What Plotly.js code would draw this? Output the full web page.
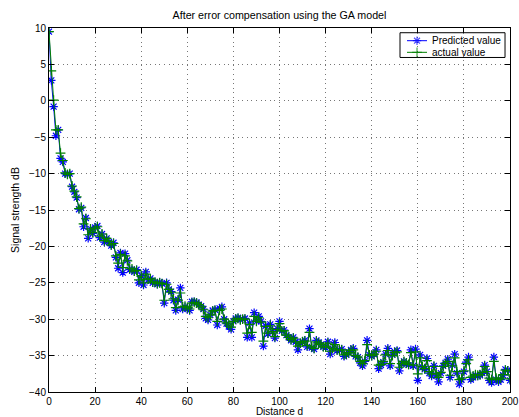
<!DOCTYPE html>
<html>
<head>
<meta charset="utf-8">
<script src="https://cdn.plot.ly/plotly-3.0.1.min.js"></script>
<style>html,body{margin:0;padding:0;background:#fff;}#chart{width:519px;height:417px;}</style>
</head>
<body>
<div id="chart"></div>
<script>
const distance = Array.from({length: 201}, (_, i) => i);

const predictedValue = [
  9.5, 2.8, -0.8, -4.8, -4.0, -7.9, -8.4, -10.0, -10.1, -10.0,
  -11.8, -12.5, -13.3, -14.9, -14.7, -17.3, -16.1, -18.9, -17.6, -18.2,
  -17.4, -17.2, -18.8, -18.3, -19.4, -18.9, -19.4, -19.9, -19.5, -21.5,
  -23.0, -20.9, -23.6, -21.0, -21.9, -23.2, -23.2, -23.5, -23.2, -25.0,
  -24.0, -25.3, -23.5, -24.6, -24.4, -25.0, -24.9, -25.2, -24.9, -25.1,
  -27.8, -25.0, -25.9, -26.2, -27.4, -28.8, -27.3, -25.7, -28.6, -28.3,
  -28.5, -28.8, -27.6, -27.6, -27.7, -28.0, -28.2, -28.6, -29.9, -30.1,
  -29.4, -28.8, -28.7, -30.8, -28.5, -28.3, -30.0, -30.6, -31.0, -31.4,
  -30.3, -29.9, -29.8, -30.1, -30.0, -29.9, -32.5, -30.5, -32.5, -29.1,
  -30.3, -29.6, -30.3, -33.7, -30.9, -32.0, -30.7, -31.7, -32.6, -31.3,
  -30.3, -31.6, -31.5, -32.2, -32.5, -32.9, -32.5, -33.1, -34.2, -33.3,
  -33.1, -32.9, -33.8, -31.3, -33.9, -34.1, -32.9, -33.2, -33.5, -33.8,
  -33.9, -33.1, -34.8, -34.0, -33.2, -34.3, -34.2, -34.1, -35.1, -34.9,
  -34.6, -34.2, -34.0, -35.1, -35.2, -36.0, -36.4, -35.8, -32.9, -34.9,
  -35.1, -34.8, -34.2, -36.8, -36.3, -35.9, -34.8, -34.0, -36.4, -34.9,
  -34.5, -34.3, -37.1, -36.1, -35.8, -36.1, -36.3, -34.2, -36.4, -34.1,
  -38.4, -34.9, -36.6, -36.9, -35.4, -37.4, -37.8, -36.4, -37.7, -38.6,
  -37.4, -36.4, -36.0, -35.5, -38.0, -36.3, -34.8, -37.4, -38.9, -38.3,
  -37.2, -35.9, -35.2, -38.3, -38.0, -37.7, -37.8, -37.7, -37.4, -36.3,
  -37.2, -38.4, -38.7, -35.2, -38.3, -38.6, -38.3, -37.7, -36.9, -37.0,
  -38.4
];

const actualValue = [
  9.5, 4.1, 0.1, -4.0, -4.0, -7.2, -8.2, -9.9, -10.1, -10.0,
  -11.7, -12.4, -13.2, -14.8, -14.6, -16.9, -16.2, -18.4, -17.6, -18.1,
  -17.5, -17.3, -18.6, -18.3, -19.2, -18.9, -19.3, -19.8, -19.6, -21.3,
  -22.3, -21.1, -22.9, -21.3, -22.0, -23.0, -23.1, -23.4, -23.3, -24.6,
  -24.1, -25.0, -23.8, -24.5, -24.5, -24.9, -24.9, -25.1, -25.0, -25.1,
  -27.4, -25.2, -25.9, -26.3, -27.2, -28.4, -27.4, -26.4, -28.3, -28.2,
  -28.4, -28.6, -27.8, -27.7, -27.8, -28.0, -28.3, -28.7, -29.6, -29.8,
  -29.4, -28.9, -28.8, -30.3, -28.8, -28.6, -30.0, -30.5, -30.8, -31.1,
  -30.3, -30.0, -29.9, -30.1, -30.0, -30.0, -31.9, -30.7, -31.8, -29.6,
  -30.3, -29.8, -30.4, -33.0, -31.0, -31.9, -30.9, -31.7, -32.4, -31.4,
  -30.6, -31.6, -31.6, -32.2, -32.5, -32.8, -32.6, -33.1, -33.7, -33.3,
  -33.1, -33.0, -33.6, -31.8, -33.8, -34.0, -33.1, -33.3, -33.5, -33.8,
  -33.8, -33.3, -34.4, -34.0, -33.5, -34.2, -34.2, -34.2, -34.9, -34.8,
  -34.6, -34.3, -34.2, -35.0, -35.2, -35.8, -36.1, -35.7, -33.5, -34.9,
  -35.0, -34.8, -34.4, -36.3, -36.2, -35.8, -34.9, -34.3, -36.1, -35.0,
  -34.6, -34.5, -36.6, -36.1, -35.8, -36.0, -36.2, -34.6, -36.3, -34.5,
  -37.5, -35.3, -36.5, -36.8, -35.7, -37.2, -37.5, -36.5, -37.5, -38.0,
  -37.3, -36.5, -36.1, -35.8, -37.7, -36.4, -35.3, -37.2, -38.3, -38.1,
  -37.1, -36.1, -35.6, -38.0, -37.8, -37.6, -37.7, -37.6, -37.3, -36.5,
  -37.2, -38.1, -38.3, -35.8, -38.1, -38.3, -38.1, -37.6, -37.0, -37.1,
  -38.2
];

const xTicks = [0, 20, 40, 60, 80, 100, 120, 140, 160, 180, 200];
const yTicks = [-40, -35, -30, -25, -20, -15, -10, -5, 0, 5, 10];
const seriesNames = ['Predicted value', 'actual value'];
const seriesColors = ['#0000ff', '#008000'];
const seriesSymbols = ['asterisk-open', 'cross-thin-open'];

const fontFam = '"Liberation Sans", Arial, Helvetica, sans-serif';

const traces = [
  {
    x: distance, y: predictedValue, type: 'scatter', mode: 'lines+markers',
    name: seriesNames[0], showlegend: false,
    line: {color: seriesColors[0], width: 1},
    marker: {symbol: seriesSymbols[0], size: 7, color: seriesColors[0], line: {color: seriesColors[0], width: 1.2}}
  },
  {
    x: distance, y: actualValue, type: 'scatter', mode: 'lines+markers',
    name: seriesNames[1], showlegend: false,
    line: {color: seriesColors[1], width: 1},
    marker: {symbol: seriesSymbols[1], size: 7, color: seriesColors[1], line: {color: seriesColors[1], width: 1.2}}
  }
];

// Legend (drawn on an overlay axis in paper-like 0..1 space)
const legBox = {x0: 0.7614, x1: 0.9892, y0: 0.919, y1: 0.987};
const legRows = [0.9651, 0.9332];
const legLineX = [0.7766, 0.8200];
const legMarkX = 0.7983;
const legTextX = 0.8254;

const shapes = [{
  type: 'rect', xref: 'paper', yref: 'paper',
  x0: legBox.x0, x1: legBox.x1, y0: legBox.y0, y1: legBox.y1,
  line: {color: '#000', width: 1}, fillcolor: '#fff', layer: 'between'
}];
const annotations = [];
seriesNames.forEach((nm, i) => {
  traces.push({
    x: [legLineX[0], legMarkX, legLineX[1]], y: [legRows[i], legRows[i], legRows[i]],
    xaxis: 'x2', yaxis: 'y2', type: 'scatter', mode: 'lines+markers', showlegend: false,
    hoverinfo: 'skip',
    line: {color: seriesColors[i], width: 1},
    marker: {symbol: seriesSymbols[i], size: [0, 7, 0], color: seriesColors[i], line: {color: seriesColors[i], width: 1.2}}
  });
  annotations.push({
    xref: 'paper', yref: 'paper', x: legTextX, y: legRows[i], xanchor: 'left', yanchor: 'middle',
    text: nm, showarrow: false, font: {family: fontFam, size: 10, color: '#000'}
  });
});

const axisCommon = {
  showline: true, linecolor: '#000', linewidth: 1, mirror: 'ticks',
  ticks: 'inside', ticklen: 5, tickcolor: '#000', tickwidth: 1,
  showgrid: true, gridcolor: '#777', griddash: '1px,3.6px', gridwidth: 1,
  zeroline: false, tickfont: {family: fontFam, size: 10, color: '#000'},
  tickmode: 'array'
};

const layout = {
  width: 519, height: 417,
  margin: {l: 49, r: 9, t: 28, b: 25, pad: 0},
  paper_bgcolor: '#fff', plot_bgcolor: '#fff',
  font: {family: fontFam, size: 10, color: '#000'},
  showlegend: false,
  title: {text: 'After error compensation using the GA model', font: {family: fontFam, size: 10.7, color: '#000'},
          x: 0.5, xref: 'paper', y: 0.964, yref: 'container', yanchor: 'middle'},
  xaxis: Object.assign({}, axisCommon, {
    range: [0, 200], tickvals: xTicks, ticktext: xTicks.map(String), ticklabelstandoff: 0,
    title: {text: 'Distance d', font: {family: fontFam, size: 10, color: '#000'}, standoff: 4}
  }),
  yaxis: Object.assign({}, axisCommon, {
    range: [-40, 10], tickvals: yTicks, ticktext: yTicks.map(v => v < 0 ? '\u2212' + Math.abs(v) : String(v)),
    title: {text: 'Signal strength dB', font: {family: fontFam, size: 10.5, color: '#000'}, standoff: 7}
  }),
  xaxis2: {overlaying: 'x', range: [0, 1], visible: false, fixedrange: true},
  yaxis2: {overlaying: 'y', range: [0, 1], visible: false, fixedrange: true},
  shapes: shapes,
  annotations: annotations
};

Plotly.newPlot('chart', traces, layout, {displayModeBar: false, staticPlot: true});
</script>
</body>
</html>
